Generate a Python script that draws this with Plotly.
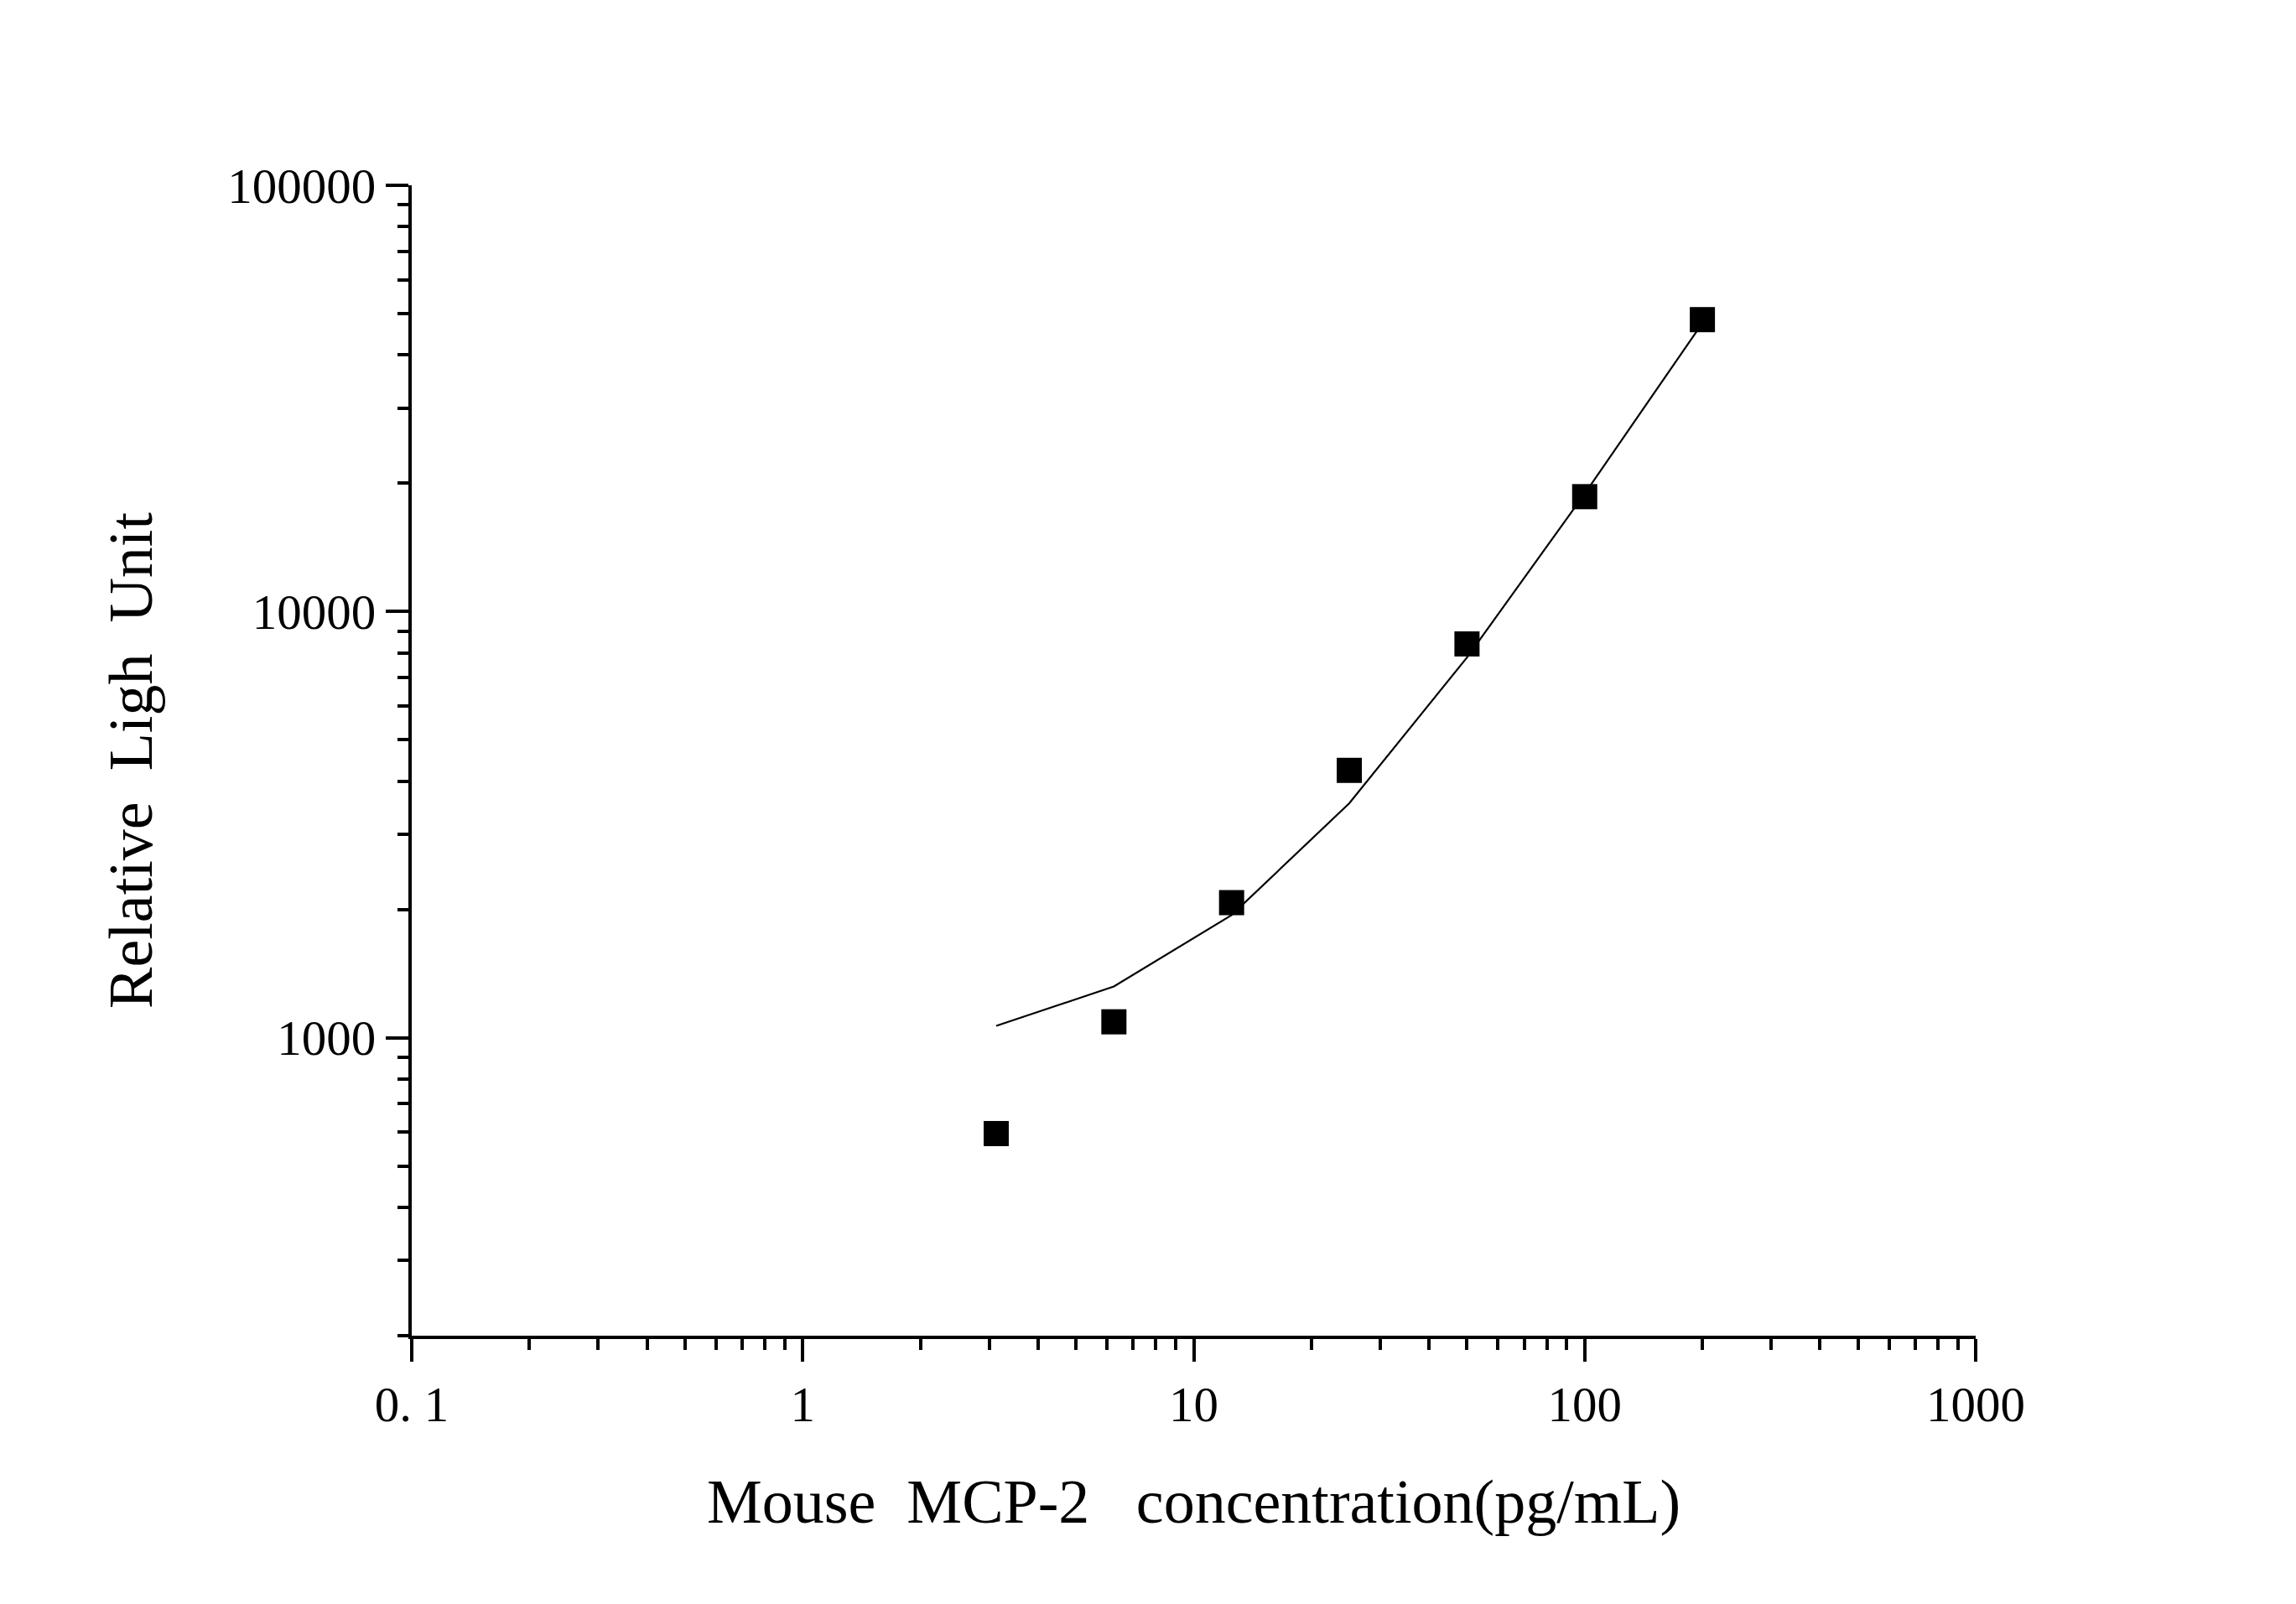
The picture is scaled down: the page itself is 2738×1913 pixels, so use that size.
import plotly.graph_objects as go

# Data
concentration = [3.125, 6.25, 12.5, 25, 50, 100, 200]
measured_rlu = [596, 1090, 2075, 4240, 8395, 18600, 48400]
fitted_rlu = [1066, 1319, 1940, 3550, 7800, 18900, 47500]

x_tickvals = [0.1, 1, 10, 100, 1000]
x_ticktext = ["0. 1", "1", "10", "100", "1000"]
y_tickvals = [1000, 10000, 100000]
y_ticktext = ["1000", "10000", "100000"]

x_title = "Mouse\u00a0\u00a0MCP-2\u00a0\u00a0\u00a0concentration(pg/mL)"
y_title = "Relative\u00a0\u00a0Ligh\u00a0\u00a0Unit"

FONT = "Liberation Serif, Times New Roman, serif"

fig = go.Figure()
fig.add_trace(go.Scatter(
    x=concentration, y=fitted_rlu, mode="lines",
    line=dict(color="black", width=2.2), showlegend=False, hoverinfo="skip"))
fig.add_trace(go.Scatter(
    x=concentration, y=measured_rlu, mode="markers",
    marker=dict(symbol="square", size=30, color="black", line=dict(width=0)),
    showlegend=False))

axis_common = dict(
    type="log", showgrid=False, zeroline=False, showline=True,
    linecolor="black", linewidth=4, ticks="outside", ticklen=27, tickwidth=4,
    tickcolor="black", tickfont=dict(family=FONT, size=59, color="black"),
    minor=dict(ticks="outside", ticklen=13, tickwidth=4, tickcolor="black", dtick="D1"),
)

fig.update_xaxes(
    **axis_common, range=[-1, 3], tickmode="array",
    tickvals=x_tickvals, ticktext=x_ticktext,
    title=dict(text=x_title, font=dict(family=FONT, size=74, color="black"), standoff=58),
)
fig.update_yaxes(
    **axis_common, range=[2.30103, 5], tickmode="array",
    tickvals=y_tickvals, ticktext=y_ticktext,
    title=dict(text=y_title, font=dict(family=FONT, size=74, color="black"), standoff=66),
)

fig.update_layout(
    width=2738, height=1913,
    margin=dict(l=483, r=390, t=213, b=328, autoexpand=False),
    paper_bgcolor="white", plot_bgcolor="white",
)

fig.write_html("out.html")
